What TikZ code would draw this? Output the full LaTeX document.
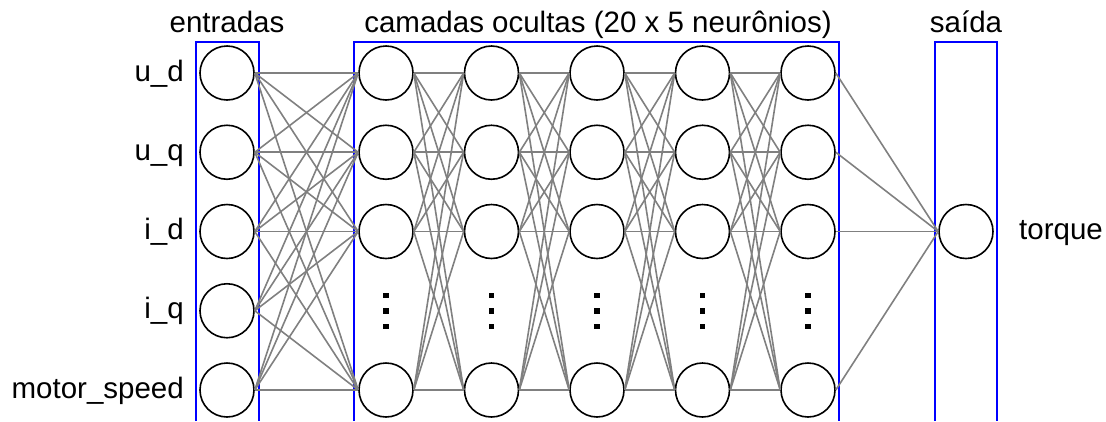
\documentclass[tikz,border=0pt]{standalone}
\usepackage{fontspec}
\setmainfont{Liberation Sans}
\begin{document}
\begin{tikzpicture}[x=1pt,y=-1pt,
  neuron/.style={circle, draw=black, line width=1.6pt, minimum size=54pt, inner sep=0pt},
  conn/.style={draw=black!50, line width=1.6pt},
  layerbox/.style={draw=blue, line width=2pt},
  lbl/.style={font=\fontsize{29.5}{34}\selectfont, inner sep=0pt},
  dotsq/.style={rectangle, fill=black, minimum size=5.5pt, inner sep=0pt}]
\useasboundingbox (0,0) rectangle (1106,421);
% layer boxes (open at the bottom)
\draw[layerbox] (196,421) -- (196,42) -- (259,42) -- (259,421);
\draw[layerbox] (354,421) -- (354,42) -- (839,42) -- (839,421);
\draw[layerbox] (935,421) -- (935,42) -- (997,42) -- (997,421);
% titles
\node[lbl, anchor=base] (t1) at (227,32) {entradas};
\node[lbl, anchor=base] (t2) at (598,32) {camadas ocultas (20 x 5 neurônios)};
\node[lbl, anchor=base] (t3) at (966,32) {saída};
% input neurons
\foreach \r/\y in {1/73,2/152.25,3/231.5,4/310.75,5/390}
  \node[neuron] (i\r) at (227,\y) {};
% hidden neurons and dots
\foreach \c/\x in {1/386,2/491.5,3/597,4/702.5,5/808}{
  \foreach \r/\y in {1/73,2/152.25,3/231.5,5/390}
    \node[neuron] (h\c\r) at (\x,\y) {};
  \node[dotsq] (d\c a) at (\x,295.5) {};
  \node[dotsq] (d\c b) at (\x,311) {};
  \node[dotsq] (d\c c) at (\x,326.5) {};
}
% output neuron
\node[neuron] (o) at (966,231.5) {};
% input labels
\node[lbl, anchor=base east] (l1) at (184,81) {u\_d};
\node[lbl, anchor=base east] (l2) at (184,160.25) {u\_q};
\node[lbl, anchor=base east] (l3) at (184,239.5) {i\_d};
\node[lbl, anchor=base east] (l4) at (184,318.75) {i\_q};
\node[lbl, anchor=base east] (l5) at (184,398) {motor\_speed};
\node[lbl, anchor=base west] (lo) at (1019,239) {torque};
% connections input -> hidden 1
\foreach \r in {1,2,3,4,5}
  \foreach \s in {1,2,3,5}
    \draw[conn] (i\r.east) -- (h1\s.west);
% hidden -> hidden
\foreach \c/\n in {1/2,2/3,3/4,4/5}
  \foreach \r in {1,2,3,5}
    \foreach \s in {1,2,3,5}
      \draw[conn] (h\c\r.east) -- (h\n\s.west);
% hidden 5 -> output
\foreach \r in {1,2,3,5}
  \draw[conn] (h5\r.east) -- (o.west);
\end{tikzpicture}
\end{document}
